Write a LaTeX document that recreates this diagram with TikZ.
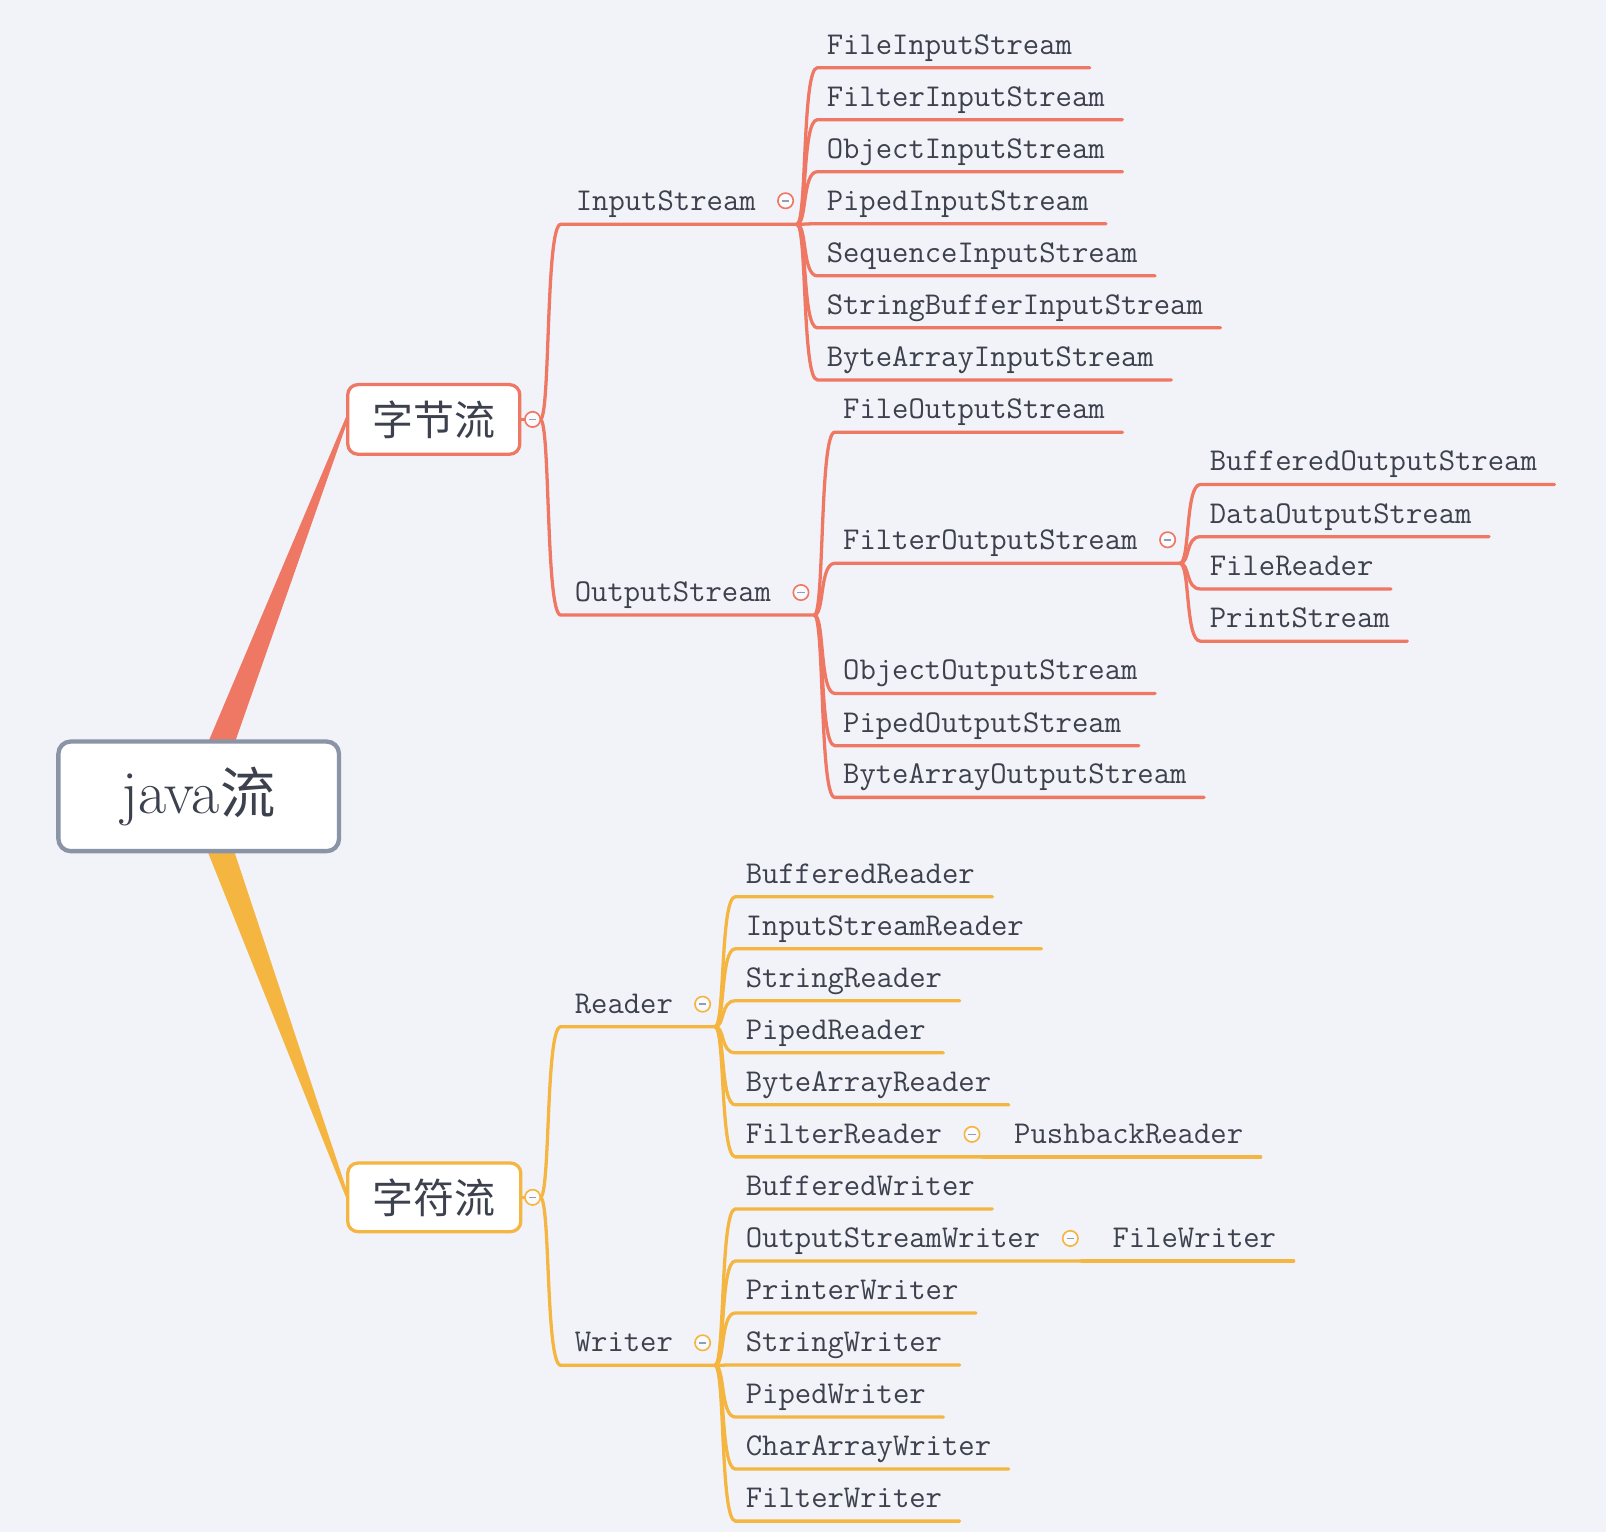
\documentclass[tikz,border=0pt]{standalone}
\usepackage{fontspec}
\newfontfamily\cjk{Noto Sans CJK SC}
\usetikzlibrary{calc}
\pgfdeclarelayer{back}
\pgfsetlayers{back,main}
\definecolor{bg}{HTML}{F2F3F8}
\definecolor{sal}{HTML}{EF7864}
\definecolor{ylw}{HTML}{F4B640}
\definecolor{rootc}{HTML}{8A94A6}
\definecolor{txt}{HTML}{3C414D}
\definecolor{minusc}{HTML}{8F9DB8}
\tikzset{
  lbl/.style={anchor=south west, inner xsep=17pt, inner ysep=0pt, text depth=13pt,
    font=\ttfamily\fontsize{31pt}{31pt}\selectfont, text=txt},
  link/.style={line width=3.2pt, line cap=round, draw=#1},
  stem/.style={to path={let \p1=(\tikztostart), \p2=(\tikztotarget) in
    .. controls (\x1+10pt,\y1) and (\x1+5pt,\y2) .. (\x1+20pt,\y2) -- (\tikztotarget)}},
  fold/.style={circle, draw=#1, line width=1.6pt, fill=white!70!bg, minimum size=15pt, inner sep=0pt,
    path picture={\draw[minusc, line width=1.5pt]
      ([xshift=-3.5pt]path picture bounding box.center) -- ([xshift=3.5pt]path picture bounding box.center);}},
  topic/.style={draw=#1, line width=3.2pt, fill=white, rounded corners=10pt, inner sep=0pt,
    font=\cjk\fontsize{40pt}{40pt}\selectfont, text=txt},
}
\begin{document}
\begin{tikzpicture}[x=1pt, y=-1pt]
\begin{pgfonlayer}{back}
\fill[bg] (0,0) rectangle (1568,1496);
\end{pgfonlayer}
\useasboundingbox (0,0) rectangle (1568,1496);

% central topic and the two main topics
\node[draw=rootc, line width=4.2pt, fill=white, rounded corners=12pt, inner sep=0pt,
      minimum width=274pt, minimum height=107pt, text=txt] (root) at (194,777.5)
      {\fontsize{60pt}{60pt}\selectfont java\kern1pt{\cjk\fontsize{54pt}{54pt}\selectfont 流}};
\node[topic=sal, minimum width=168pt, minimum height=68pt] (byte) at (423.5,409.5) {字节流};
\node[topic=ylw, minimum width=169pt, minimum height=67pt] (char) at (424,1169) {字符流};

% tapered main branches
\begin{pgfonlayer}{back}
\fill[sal] ($(root.north)+(10,1)$) -- ($(byte.west)+(1,-5)$) -- ($(byte.west)+(1,3)$) -- ($(root.north)+(36,1)$) -- cycle;
\fill[ylw] ($(root.south)+(9,-1)$) -- ($(char.west)+(1,3)$) -- ($(char.west)+(1,-6)$) -- ($(root.south)+(35,-1)$) -- cycle;
\end{pgfonlayer}

% ---------- byte streams ----------
\coordinate (bj) at (527.5,409.5);
\coordinate (isj) at (778,219);
\coordinate (osj) at (795,600.5);
\coordinate (fosj) at (1152,550);
\draw[link=sal] (byte.east) -- (bj);

\node[lbl] (is) at (545,219) {InputStream};
\node[lbl] (os) at (544,600.5) {OutputStream};
\draw[link=sal] (bj) to[stem] (isj);
\draw[link=sal] (bj) to[stem] (osj);

\node[lbl] (fis)  at (790,66.1)  {FileInputStream};
\node[lbl] (flis) at (790,116.9) {FilterInputStream};
\node[lbl] (ois)  at (790,167.7) {ObjectInputStream};
\node[lbl] (pis)  at (790,218.5) {PipedInputStream};
\node[lbl] (sqis) at (790,269.3) {SequenceInputStream};
\node[lbl] (sbis) at (790,320.1) {StringBufferInputStream};
\node[lbl] (bais) at (790,370.9) {ByteArrayInputStream};
\foreach \k in {fis,flis,ois,pis,sqis,sbis,bais}
  \draw[link=sal] (isj) to[stem] (\k.south east);

\node[lbl] (fos)  at (806,422)   {FileOutputStream};
\node[lbl] (flos) at (806,550)   {FilterOutputStream};
\node[lbl] (oos)  at (806,677)   {ObjectOutputStream};
\node[lbl] (pos)  at (806,728)   {PipedOutputStream};
\node[lbl] (baos) at (806,778.5) {ByteArrayOutputStream};
\foreach \k in {fos,oos,pos,baos}
  \draw[link=sal] (osj) to[stem] (\k.south east);
\draw[link=sal] (osj) to[stem] (fosj);

\node[lbl] (bos) at (1164,473) {BufferedOutputStream};
\node[lbl] (dos) at (1164,524) {DataOutputStream};
\node[lbl] (frd) at (1164,575) {FileReader};
\node[lbl] (prs) at (1164,626) {PrintStream};
\foreach \k in {bos,dos,frd,prs}
  \draw[link=sal] (fosj) to[stem] (\k.south east);

% ---------- character streams ----------
\coordinate (cj) at (527.5,1169);
\coordinate (rj) at (698,1002.4);
\coordinate (wj) at (698,1333);
\coordinate (frj) at (960,1129.5);
\coordinate (oswj) at (1056,1231.1);
\draw[link=ylw] (char.east) -- (cj);

\node[lbl] (rd) at (544,1002.4) {Reader};
\node[lbl] (wr) at (544,1333) {Writer};
\draw[link=ylw] (cj) to[stem] (rj);
\draw[link=ylw] (cj) to[stem] (wj);

\node[lbl] (brd)  at (711,875.5)  {BufferedReader};
\node[lbl] (isr)  at (711,926.3)  {InputStreamReader};
\node[lbl] (srd)  at (711,977.1)  {StringReader};
\node[lbl] (prd)  at (711,1027.9) {PipedReader};
\node[lbl] (bard) at (711,1078.7) {ByteArrayReader};
\node[lbl] (flrd) at (711,1129.5) {FilterReader};
\foreach \k in {brd,isr,srd,prd,bard}
  \draw[link=ylw] (rj) to[stem] (\k.south east);
\draw[link=ylw] (rj) to[stem] (frj);
\node[lbl] (pbr) at (973,1129.5) {PushbackReader};
\draw[link=ylw] (frj) to[stem] (pbr.south east);

\node[lbl] (bwr) at (711,1180.3) {BufferedWriter};
\node[lbl] (osw) at (711,1231.1) {OutputStreamWriter};
\node[lbl] (pwr) at (711,1281.9) {PrinterWriter};
\node[lbl] (swr) at (711,1332.7) {StringWriter};
\node[lbl] (ppw) at (711,1383.5) {PipedWriter};
\node[lbl] (caw) at (711,1434.3) {CharArrayWriter};
\node[lbl] (fwr) at (711,1485.1) {FilterWriter};
\foreach \k in {bwr,pwr,swr,ppw,caw,fwr}
  \draw[link=ylw] (wj) to[stem] (\k.south east);
\draw[link=ylw] (wj) to[stem] (oswj);
\node[lbl] (fw) at (1069,1231.1) {FileWriter};
\draw[link=ylw] (oswj) to[stem] (fw.south east);

% ---------- collapse markers ----------
\node[fold=sal] (f1) at (520,409.5) {};
\node[fold=sal] (f2) at ($(isj)+(-11,-23)$) {};
\node[fold=sal] (f3) at ($(osj)+(-13,-22)$) {};
\node[fold=sal] (f4) at ($(fosj)+(-12,-23)$) {};
\node[fold=ylw] (f5) at (520,1169) {};
\node[fold=ylw] (f6) at ($(rj)+(-12,-22)$) {};
\node[fold=ylw] (f7) at ($(wj)+(-12,-22)$) {};
\node[fold=ylw] (f8) at ($(frj)+(-11,-22)$) {};
\node[fold=ylw] (f9) at ($(oswj)+(-11,-22)$) {};
\end{tikzpicture}
\end{document}
